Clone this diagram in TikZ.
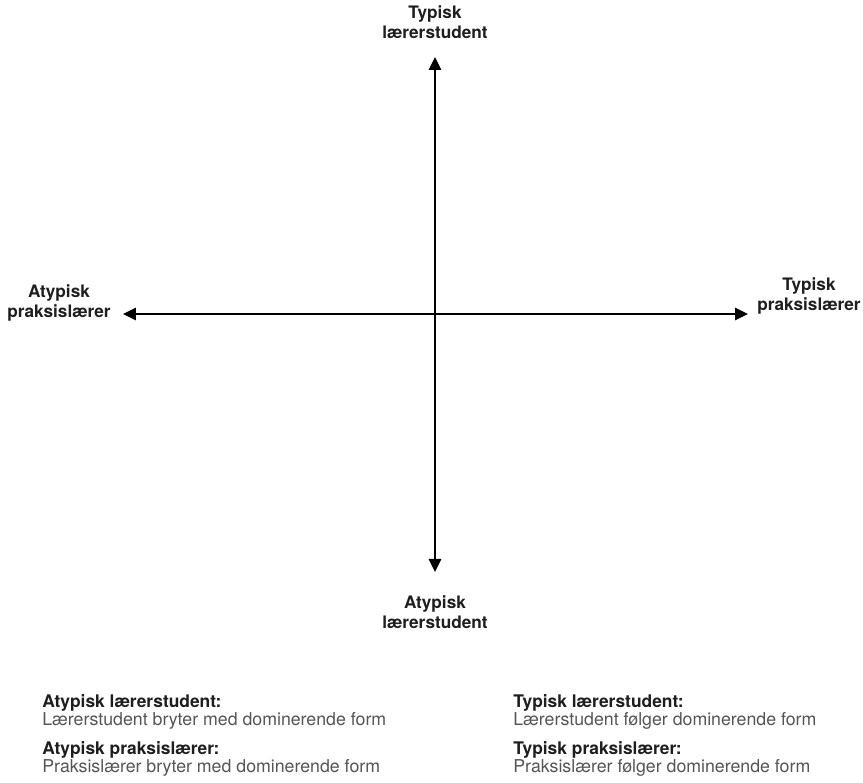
\documentclass[tikz,border=0pt]{standalone}
\usepackage{fontspec}
\setmainfont{TeX Gyre Heros}
\usepackage{tikz}
\usetikzlibrary{arrows.meta}

\definecolor{labelgray}{HTML}{1E1E1E}
\definecolor{textgray}{HTML}{555555}

\tikzset{
	axislabel/.style={font=\fontsize{9.8}{11.5}\selectfont\bfseries, text=labelgray,
		align=center, inner sep=0pt, anchor=south},
	legendhead/.style={font=\fontsize{9.9}{12}\selectfont\bfseries, text=labelgray,
		anchor=base west, inner sep=0pt},
	legendtext/.style={font=\fontsize{10.1}{12}\selectfont, text=textgray,
		anchor=base west, inner sep=0pt},
	axis/.style={line width=1.5pt,
		{Triangle[length=2.6mm,width=2.4mm]}-{Triangle[length=2.6mm,width=2.4mm]}}
}

\begin{document}
\begin{tikzpicture}[x=0.02cm, y=-0.02cm]
		\useasboundingbox (0,0) rectangle (863,783);
		% ends of the two axes
		\coordinate (top) at (435,57);
		\coordinate (bot) at (435,572);
		\coordinate (lft) at (123,314);
		\coordinate (rgt) at (748,314);
		\path [draw, axis] (lft)--(rgt);
		\path [draw, axis] (top)--(bot);
		% axis labels
		\node[axislabel] (typstud) at (435,39) {Typisk\\lærerstudent};
		\node[axislabel] (atypstud) at (435,629) {Atypisk\\lærerstudent};
		\node[axislabel] (atyplaer) at (59,322) {Atypisk\\praksislærer};
		\node[axislabel] (typlaer) at (809,315) {Typisk\\praksislærer};
		% legend
		\node[legendhead] (atypstudhead) at (42,708) {Atypisk lærerstudent:};
		\node[legendtext] (atypstudtext) at (42,726) {Lærerstudent bryter med dominerende form};
		\node[legendhead] (atyplaerhead) at (42,755) {Atypisk praksislærer:};
		\node[legendtext] (atyplaertext) at (42,773) {Praksislærer bryter med dominerende form};
		\node[legendhead] (typstudhead) at (513,708) {Typisk lærerstudent:};
		\node[legendtext] (typstudtext) at (513,726) {Lærerstudent følger dominerende form};
		\node[legendhead] (typlaerhead) at (513,755) {Typisk praksislærer:};
		\node[legendtext] (typlaertext) at (513,773) {Praksislærer følger dominerende form};
	\end{tikzpicture}
\end{document}
